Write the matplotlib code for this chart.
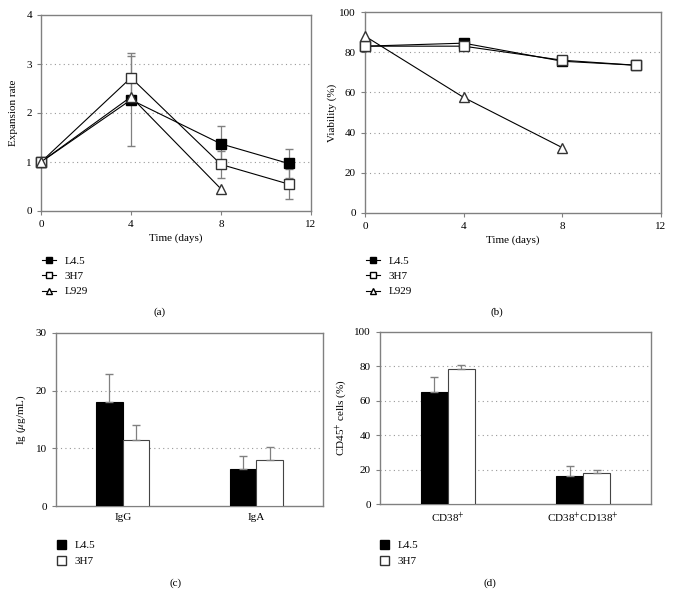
import matplotlib
matplotlib.use('Agg')
import matplotlib.pyplot as plt
from matplotlib.lines import Line2D
from matplotlib.patches import Patch
import numpy as np

plt.rcParams['font.family'] = ['Liberation Serif', 'DejaVu Serif']
plt.rcParams['mathtext.fontset'] = 'stix'

# (a) expansion rate
days = [0, 4, 8, 11]
days_l929 = [0, 4, 8]
exp_l45 = [1.0, 2.27, 1.37, 0.97]
exp_l45_err = [0, 0.95, 0.37, 0.30]
exp_3h7 = [1.0, 2.72, 0.95, 0.55]
exp_3h7_err = [0, 0.45, 0.27, 0.30]
exp_l929 = [1.0, 2.33, 0.45]

# (b) viability
via_l45 = [83, 84.5, 75.5, 73.5]
via_3h7 = [83, 83, 76, 73.5]
via_l929 = [88, 57.5, 32.5]

# (c) Ig
ig_cats = ['IgG', 'IgA']
ig_l45 = [18.0, 6.4]
ig_l45_err = [4.9, 2.35]
ig_3h7 = [11.5, 7.9]
ig_3h7_err = [2.5, 2.3]

# (d) CD45+ cells
cd_cats = ['CD38$^{+}$', 'CD38$^{+}$CD138$^{+}$']
cd_l45 = [65.0, 16.5]
cd_l45_err = [9.0, 5.7]
cd_3h7 = [78.2, 18.0]
cd_3h7_err = [2.7, 1.5]

W, H = 673, 593
fig = plt.figure(figsize=(W / 100, H / 100), dpi=100)


def px(l, t, r, b):
    return [l / W, 1 - b / H, (r - l) / W, (b - t) / H]


gray = '#808080'
fs = 8


def style(ax, yticks):
    for s in ax.spines.values():
        s.set_color(gray)
        s.set_linewidth(1.0)
    ax.tick_params(colors='black', labelsize=fs, length=3, width=0.8, direction='out')
    ax.tick_params(axis='both', color=gray)
    ax.set_yticks(yticks)
    for y in yticks[1:-1]:
        ax.axhline(y, color='#999999', linestyle=(0, (1, 3)), linewidth=0.8, zorder=0)


def line_legend(x, y):
    handles = [
        Line2D([], [], color='black', lw=0.8, marker='s', mfc='black', mec='black', ms=5),
        Line2D([], [], color='black', lw=0.8, marker='s', mfc='white', mec='black', ms=5),
        Line2D([], [], color='black', lw=0.8, marker='^', mfc='white', mec='black', ms=5),
    ]
    fig.legend(handles, ['L4.5', '3H7', 'L929'], loc='upper left',
               bbox_to_anchor=(x / W, 1 - y / H), frameon=False, fontsize=fs,
               handlelength=1.3, handletextpad=0.7, labelspacing=0.5, borderpad=0, borderaxespad=0)


def bar_legend(x, y):
    handles = [Patch(facecolor='black', edgecolor='black'),
               Patch(facecolor='white', edgecolor='#333333')]
    fig.legend(handles, ['L4.5', '3H7'], loc='upper left',
               bbox_to_anchor=(x / W, 1 - y / H), frameon=False, fontsize=fs,
               handlelength=0.8, handleheight=0.8, handletextpad=0.8, labelspacing=0.55,
               borderpad=0, borderaxespad=0)


# ---- (a)
ax = fig.add_axes(px(41, 15, 311, 211))
ax.errorbar(days, exp_l45, yerr=exp_l45_err, color='black', ecolor=gray, elinewidth=0.9,
            capsize=3, lw=0.8, marker='s', mfc='black', mec='black', ms=7, zorder=3, clip_on=False)
ax.errorbar(days, exp_3h7, yerr=exp_3h7_err, color='black', ecolor=gray, elinewidth=0.9,
            capsize=3, lw=0.8, marker='s', mfc='white', mec='#333333', ms=7, zorder=3, clip_on=False)
ax.plot(days_l929, exp_l929, color='black', lw=0.8, marker='^', mfc='white', mec='#333333', ms=7,
        zorder=4, clip_on=False)
ax.set_xlim(0, 12)
ax.set_ylim(0, 4)
ax.set_xticks([0, 4, 8, 12])
style(ax, [0, 1, 2, 3, 4])
ax.set_xlabel('Time (days)', fontsize=fs, labelpad=3)
ax.set_ylabel('Expansion rate', fontsize=fs, labelpad=6)
line_legend(42, 256)
fig.text(160 / W, 1 - 312 / H, '(a)', fontsize=fs, ha='center', va='center')

# ---- (b)
ax = fig.add_axes(px(365, 12, 661, 213))
ax.plot(days, via_l45, color='black', lw=0.8, marker='s', mfc='black', mec='black', ms=7, zorder=3,
        clip_on=False)
ax.plot(days, via_3h7, color='black', lw=0.8, marker='s', mfc='white', mec='#333333', ms=7, zorder=3,
        clip_on=False)
ax.plot(days_l929, via_l929, color='black', lw=0.8, marker='^', mfc='white', mec='#333333', ms=7,
        zorder=4, clip_on=False)
ax.set_xlim(0, 12)
ax.set_ylim(0, 100)
ax.set_xticks([0, 4, 8, 12])
style(ax, [0, 20, 40, 60, 80, 100])
ax.set_xlabel('Time (days)', fontsize=fs, labelpad=3)
ax.set_ylabel('Viability (%)', fontsize=fs, labelpad=2)
line_legend(366, 256)
fig.text(497 / W, 1 - 312 / H, '(b)', fontsize=fs, ha='center', va='center')

# ---- (c)
bw = 0.2
x = np.array([0.5, 1.5])
ax = fig.add_axes(px(56, 333, 323, 506))
ax.bar(x - bw / 2, ig_l45, bw, color='black', edgecolor='black', lw=0.8, zorder=3,
       yerr=[np.zeros(2), ig_l45_err], ecolor=gray, capsize=3, error_kw=dict(elinewidth=0.9))
ax.bar(x + bw / 2, ig_3h7, bw, color='white', edgecolor='#444444', lw=0.8, zorder=3,
       yerr=[np.zeros(2), ig_3h7_err], ecolor=gray, capsize=3, error_kw=dict(elinewidth=0.9))
ax.set_xlim(0, 2)
ax.set_ylim(0, 30)
ax.set_xticks(x)
ax.set_xticklabels(ig_cats)
style(ax, [0, 10, 20, 30])
ax.tick_params(axis='x', length=0, pad=5)
ax.set_ylabel(r'Ig ($\mu$g/mL)', fontsize=fs, labelpad=6)
bar_legend(57, 540)
fig.text(176 / W, 1 - 583 / H, '(c)', fontsize=fs, ha='center', va='center')

# ---- (d)
ax = fig.add_axes(px(380, 332, 651, 504))
ax.bar(x - bw / 2, cd_l45, bw, color='black', edgecolor='black', lw=0.8, zorder=3,
       yerr=[np.zeros(2), cd_l45_err], ecolor=gray, capsize=3, error_kw=dict(elinewidth=0.9))
ax.bar(x + bw / 2, cd_3h7, bw, color='white', edgecolor='#444444', lw=0.8, zorder=3,
       yerr=[np.zeros(2), cd_3h7_err], ecolor=gray, capsize=3, error_kw=dict(elinewidth=0.9))
ax.set_xlim(0, 2)
ax.set_ylim(0, 100)
ax.set_xticks(x)
ax.set_xticklabels(cd_cats)
style(ax, [0, 20, 40, 60, 80, 100])
ax.tick_params(axis='x', length=0, pad=5)
ax.set_ylabel(r'CD45$^{+}$ cells (%)', fontsize=fs, labelpad=4)
bar_legend(380, 540)
fig.text(490 / W, 1 - 583 / H, '(d)', fontsize=fs, ha='center', va='center')

fig.savefig('out.png', dpi=100)
